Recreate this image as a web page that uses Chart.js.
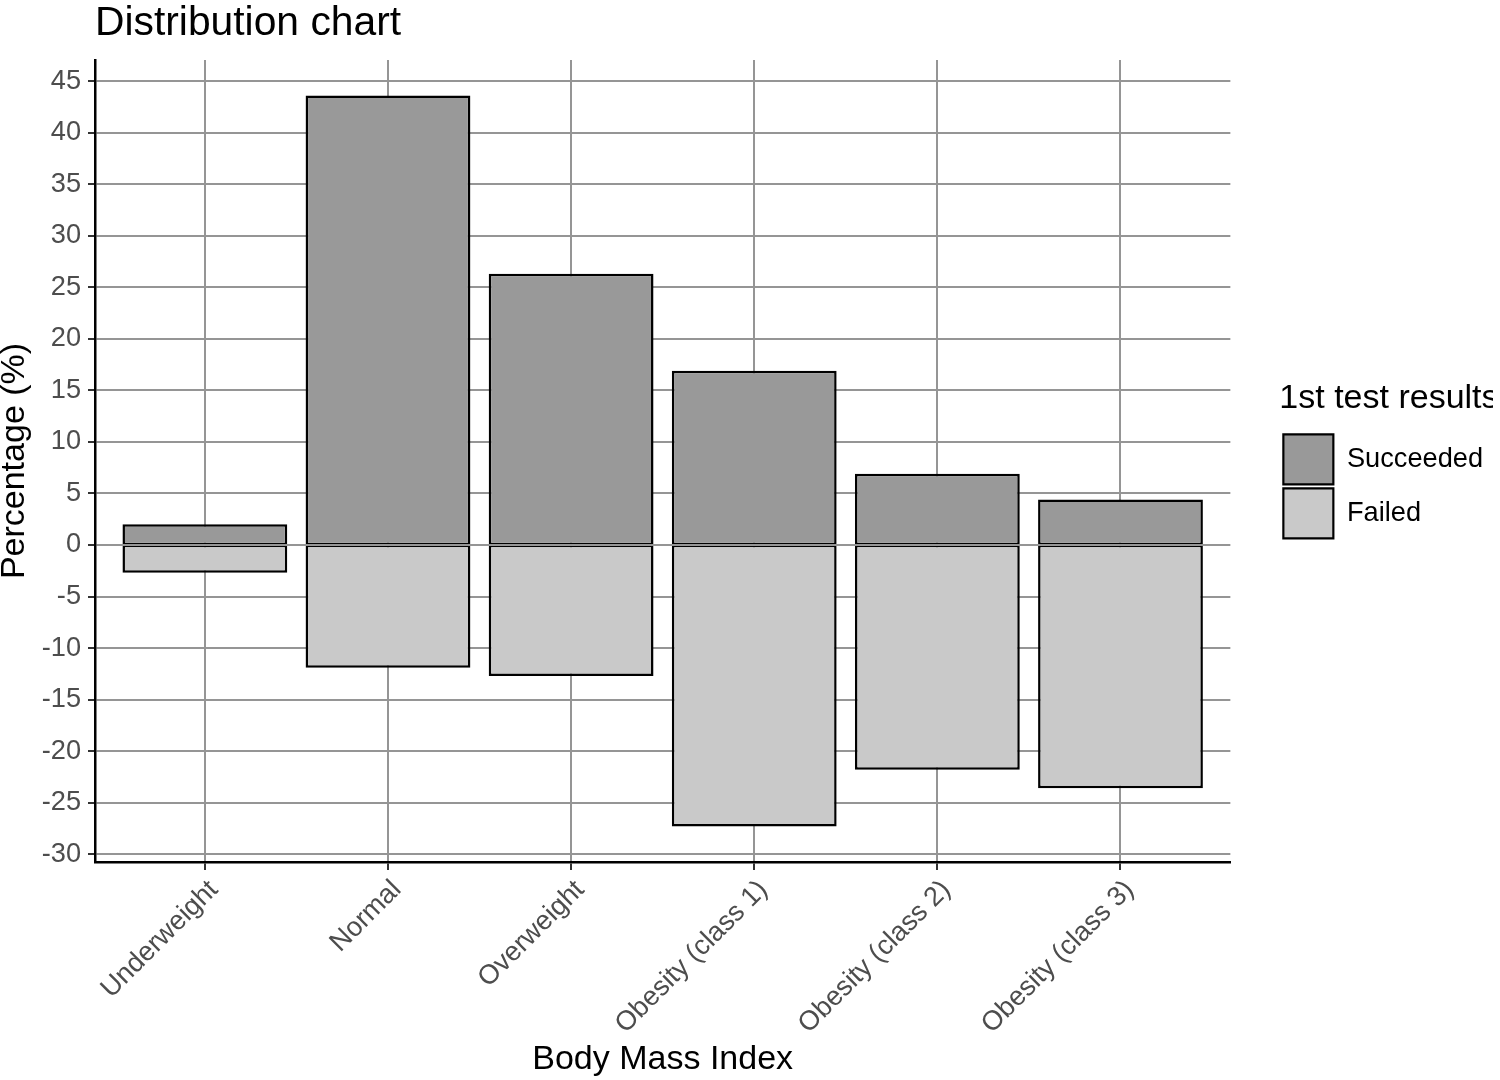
<!DOCTYPE html>
<html>
<head>
<meta charset="utf-8">
<title>Distribution chart</title>
<script src="https://cdn.jsdelivr.net/npm/chart.js@4.4.1/dist/chart.umd.min.js"></script>
<style>
  html, body { margin: 0; padding: 0; background: #fff; }
  #wrap { width: 1500px; height: 1080px; }
</style>
</head>
<body>
<div id="wrap"><canvas id="chart" width="1500" height="1080"></canvas></div>
<script>
const categories = ['Underweight', 'Normal', 'Overweight', 'Obesity (class 1)', 'Obesity (class 2)', 'Obesity (class 3)'];
const succeeded = [2.0, 43.6, 26.3, 16.9, 6.9, 4.4];
const failed = [-2.7, -11.9, -12.7, -27.3, -21.8, -23.6];
const yTicks = [-30, -25, -20, -15, -10, -5, 0, 5, 10, 15, 20, 25, 30, 35, 40, 45];

const FONT = "'Liberation Sans', Arial, Helvetica, sans-serif";
const GRID = '#959595';
const TICK_TEXT = '#4d4d4d';

function points(values) {
  return values.map((v, i) => ({ x: i, y: v }));
}

// ggplot-style left aligned title over the panel
const plotTitle = {
  id: 'plotTitle',
  afterDraw(chart) {
    const ctx = chart.ctx;
    ctx.save();
    ctx.font = '40.8px ' + FONT;
    ctx.fillStyle = '#000';
    ctx.textAlign = 'left';
    ctx.textBaseline = 'alphabetic';
    ctx.fillText('Distribution chart', chart.chartArea.left, 35);
    ctx.restore();
  }
};

new Chart(document.getElementById('chart'), {
  type: 'bar',
  data: {
    datasets: [
      {
        label: 'Succeeded',
        data: points(succeeded),
        backgroundColor: '#999999',
        borderColor: '#000',
        borderWidth: { top: 2.5, left: 2.5, right: 2.5, bottom: 1.25 },
        borderSkipped: false,
        xAxisID: 'x',
        yAxisID: 'y'
      },
      {
        label: 'Failed',
        data: points(failed),
        backgroundColor: '#c9c9c9',
        borderColor: '#000',
        borderWidth: { top: 1.25, left: 2.5, right: 2.5, bottom: 2.5 },
        borderSkipped: false,
        xAxisID: 'x',
        yAxisID: 'y'
      }
    ]
  },
  options: {
    responsive: false,
    animation: false,
    grouped: false,
    categoryPercentage: 1,
    barPercentage: 0.9,
    layout: { padding: { top: 60, right: 7, bottom: 0, left: 0 } },
    plugins: {
      title: { display: false },
      tooltip: { enabled: false },
      legend: {
        position: 'right',
        align: 'center',
        fullSize: false,
        title: {
          display: true,
          text: '1st test results',
          position: 'start',
          color: '#000',
          font: { family: FONT, size: 34 },
          padding: { top: 2, bottom: 8 }
        },
        labels: {
          boxWidth: 50,
          boxHeight: 50,
          padding: 4,
          color: '#000',
          font: { family: FONT, size: 27.2 }
        }
      }
    },
    scales: {
      x: {
        type: 'linear',
        position: 'bottom',
        offset: false,
        min: -0.6,
        max: 5.6,
        afterBuildTicks: (axis) => { axis.ticks = categories.map((_, i) => ({ value: i })); },
        afterFit: (scale) => { scale.height = 218; },
        grid: { offset: false, color: GRID, lineWidth: 2, tickLength: 8, tickColor: '#333', tickWidth: 2 },
        border: { display: true, color: '#000', width: 2.5 },
        ticks: {
          minRotation: 45,
          maxRotation: 45,
          padding: 4,
          labelOffset: 9,
          color: TICK_TEXT,
          font: { family: FONT, size: 27.2 },
          callback: (v) => categories[v]
        },
        title: {
          display: true,
          text: 'Body Mass Index',
          color: '#000',
          font: { family: FONT, size: 34, lineHeight: 1.2 },
          padding: { top: 0, bottom: 0 }
        }
      },
      y: {
        type: 'linear',
        position: 'left',
        min: -30.75,
        max: 47.04,
        afterBuildTicks: (axis) => { axis.ticks = yTicks.map(v => ({ value: v })); },
        afterFit: (scale) => { scale.width = 95; },
        grid: { color: GRID, lineWidth: 2, tickLength: 7, tickColor: '#333', tickWidth: 2 },
        border: { display: true, color: '#000', width: 2.5 },
        ticks: {
          padding: 7,
          color: TICK_TEXT,
          font: { family: FONT, size: 27.2 },
          callback: (v) => String(v)
        },
        title: {
          display: true,
          text: 'Percentage (%)',
          color: '#000',
          font: { family: FONT, size: 34, lineHeight: 1 },
          padding: { top: -2, bottom: 0 }
        }
      },
      // empty spacer between the panel and the legend
      gap: {
        type: 'linear',
        position: 'right',
        display: true,
        grid: { display: false, drawTicks: false },
        border: { display: false },
        ticks: { display: false },
        afterFit: (scale) => { scale.width = 49; }
      }
    }
  },
  plugins: [plotTitle]
});
</script>
</body>
</html>
